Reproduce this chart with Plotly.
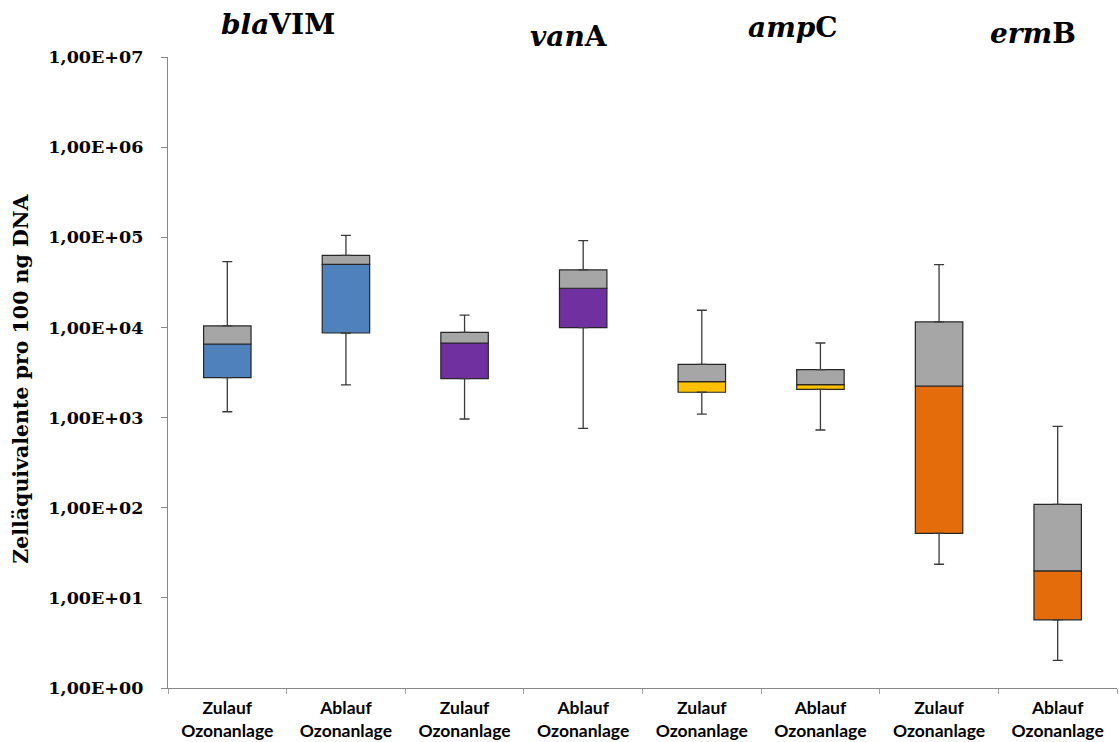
import plotly.graph_objects as go

# ---- data ----
categories = ["blaVIM_Zu", "blaVIM_Ab", "vanA_Zu", "vanA_Ab",
              "ampC_Zu", "ampC_Ab", "ermB_Zu", "ermB_Ab"]
tick_labels = ["Zulauf<br>Ozonanlage", "Ablauf<br>Ozonanlage"] * 4
genes = ["<i>bla</i>VIM", "<i>van</i>A", "<i>amp</i>C", "<i>erm</i>B"]

minimum = [1160, 2300, 964, 760, 1090, 728, 23.6, 2.03]
q1 = [2770, 8670, 2700, 9930, 1910, 2060, 52, 5.7]
median = [6550, 50000, 6720, 27200, 2500, 2320, 2240, 19.9]
q3 = [10400, 63000, 8830, 43400, 3900, 3400, 11500, 109]
maximum = [53700, 105000, 13700, 91600, 15500, 6720, 49700, 800]

y_tickvals = [1, 10, 100, 1000, 10000, 100000, 1000000, 10000000]
y_ticktext = ["1,00E+00", "1,00E+01", "1,00E+02", "1,00E+03",
              "1,00E+04", "1,00E+05", "1,00E+06", "1,00E+07"]

# ---- styles ----
lower_colors = ["#4F81BD", "#4F81BD", "#7030A0", "#7030A0",
                "#FFC000", "#FFC000", "#E46C0A", "#E46C0A"]
upper_color = "#A6A6A6"
edge = "#262626"
whisker = "#3a3a3a"
serif = "DejaVu Serif"

fig = go.Figure()

fig.add_trace(go.Bar(
    x=categories, y=[m - a for m, a in zip(median, q1)], base=q1,
    marker=dict(color=lower_colors, line=dict(color=edge, width=1.2)),
    width=0.4, showlegend=False, hoverinfo="skip"))
fig.add_trace(go.Bar(
    x=categories, y=[b - m for b, m in zip(q3, median)], base=median,
    marker=dict(color=upper_color, line=dict(color=edge, width=1.2)),
    width=0.4, showlegend=False, hoverinfo="skip"))

# upper whiskers
fig.add_trace(go.Scatter(
    x=categories, y=q3, mode="markers",
    marker=dict(size=1, color="rgba(0,0,0,0)"),
    error_y=dict(type="data", symmetric=False,
                 array=[b - a for b, a in zip(maximum, q3)],
                 arrayminus=[0] * len(q3),
                 color=whisker, thickness=1.3, width=5),
    showlegend=False, hoverinfo="skip"))
# lower whiskers
fig.add_trace(go.Scatter(
    x=categories, y=q1, mode="markers",
    marker=dict(size=1, color="rgba(0,0,0,0)"),
    error_y=dict(type="data", symmetric=False,
                 array=[0] * len(q1),
                 arrayminus=[a - b for a, b in zip(q1, minimum)],
                 color=whisker, thickness=1.3, width=5),
    showlegend=False, hoverinfo="skip"))

title_pos = [(0.116, 1.051), (0.4225, 1.032), (0.6586, 1.046), (0.9115, 1.038)]
annotations = []
for g, (px, py) in zip(genes, title_pos):
    annotations.append(dict(
        text="<b>" + g + "</b>", x=px, y=py, xref="paper", yref="paper",
        xanchor="center", yanchor="middle", showarrow=False,
        font=dict(family=serif, size=28, color="black")))
annotations.append(dict(
    text="<b>Zelläquivalente pro 100 ng DNA</b>", textangle=-90,
    x=0, y=0.49, xref="paper", yref="paper", xshift=-147,
    xanchor="center", yanchor="middle", showarrow=False,
    font=dict(family=serif, size=20.5, color="black")))

fig.update_layout(
    width=1119, height=742,
    margin=dict(l=168, r=2, t=57, b=54),
    paper_bgcolor="white", plot_bgcolor="white",
    barmode="overlay",
    annotations=annotations,
    xaxis=dict(
        type="category", categoryorder="array", categoryarray=categories,
        tickmode="array", tickvals=categories,
        ticktext=["<b>" + t + "</b>" for t in tick_labels],
        tickson="boundaries", ticks="outside", ticklen=5, tickcolor="#A0A0A0",
        ticklabelstandoff=4,
        showline=True, linecolor="#878787", linewidth=1.3,
        showgrid=False, zeroline=False,
        tickfont=dict(family="Lato", size=17.5, color="black")),
    yaxis=dict(
        type="log", range=[0, 7],
        tickmode="array", tickvals=y_tickvals,
        ticktext=["<b>" + t + "</b>" for t in y_ticktext],
        ticks="outside", ticklen=6, tickcolor="#878787",
        ticklabelstandoff=14,
        showline=True, linecolor="#878787", linewidth=1.3,
        showgrid=False, zeroline=False,
        tickfont=dict(family=serif, size=17.5, color="black")),
)

fig.write_html("out.html")
